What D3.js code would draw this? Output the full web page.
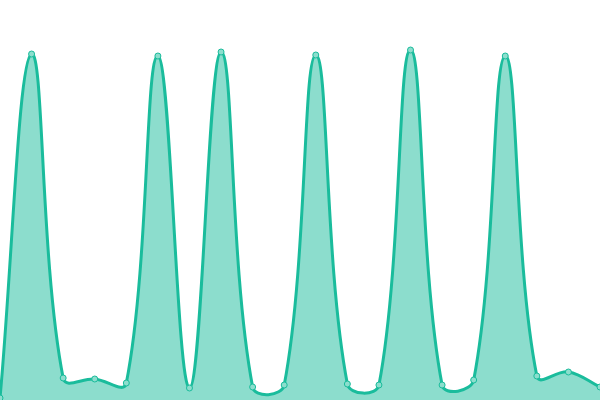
<!DOCTYPE html>
<html>
<head>
<meta charset="utf-8">
<script src="https://cdn.jsdelivr.net/npm/d3@7"></script>
<style>
html,body{margin:0;padding:0;background:#fff;}
svg{display:block;}
</style>
</head>
<body>
<svg id="chart" width="600" height="400"></svg>
<script>
const categories = d3.range(20).map(i => "P" + (i + 1));
const values = [2, 346, 22, 21, 17, 344, 12, 348, 13, 15, 345, 16, 15, 350, 15, 20, 344, 24, 28, 13];

const width = 600, height = 400;
const svg = d3.select("#chart");

const x = d3.scalePoint().domain(categories).range([0, width]);
const y = d3.scaleLinear().domain([0, 350]).range([height, 50]);

const data = categories.map((c, i) => ({c, v: values[i]}));

// Tension spline (distance-weighted control points), as a d3 curve factory
function tensionCurve(tension) {
  function Curve(context) { this._context = context; }
  Curve.prototype = {
    areaStart() { this._line = 0; },
    areaEnd() { this._line = NaN; },
    lineStart() { this._pts = []; },
    point(px, py) { this._pts.push([+px, +py]); },
    lineEnd() {
      const p = this._pts, n = p.length, c = this._context;
      if (n) {
        if (this._line) c.lineTo(p[0][0], p[0][1]); else c.moveTo(p[0][0], p[0][1]);
        const cps = p.map((cur, i) => {
          const prev = p[i - 1] || cur, next = p[i + 1] || cur;
          const d01 = Math.hypot(cur[0] - prev[0], cur[1] - prev[1]);
          const d12 = Math.hypot(next[0] - cur[0], next[1] - cur[1]);
          let s01 = d01 / (d01 + d12), s12 = d12 / (d01 + d12);
          if (isNaN(s01)) s01 = 0;
          if (isNaN(s12)) s12 = 0;
          const fa = tension * s01, fb = tension * s12;
          const clampX = v => Math.max(0, Math.min(width, v));
          const clampY = v => Math.max(0, Math.min(height, v));
          return {
            prev: [clampX(cur[0] - fa * (next[0] - prev[0])), clampY(cur[1] - fa * (next[1] - prev[1]))],
            next: [clampX(cur[0] + fb * (next[0] - prev[0])), clampY(cur[1] + fb * (next[1] - prev[1]))]
          };
        });
        for (let i = 1; i < n; i++) {
          c.bezierCurveTo(cps[i - 1].next[0], cps[i - 1].next[1], cps[i].prev[0], cps[i].prev[1], p[i][0], p[i][1]);
        }
      }
      if (this._line || (this._line !== 0 && n === 1)) c.closePath();
      this._line = 1 - this._line;
    }
  };
  return context => new Curve(context);
}
const curve = tensionCurve(0.4);

const area = d3.area()
  .x(d => x(d.c))
  .y0(y(0))
  .y1(d => y(d.v))
  .curve(curve);

const line = d3.line()
  .x(d => x(d.c))
  .y(d => y(d.v))
  .curve(curve);

svg.append("path").datum(data)
  .attr("d", area)
  .attr("fill", "#1abc9c")
  .attr("fill-opacity", 0.5);

svg.append("path").datum(data)
  .attr("d", line)
  .attr("fill", "none")
  .attr("stroke", "#1abc9c")
  .attr("stroke-width", 3);

svg.selectAll("circle").data(data).join("circle")
  .attr("cx", d => x(d.c))
  .attr("cy", d => y(d.v))
  .attr("r", 3)
  .attr("fill", "#8cdecd")
  .attr("stroke", "#1abc9c")
  .attr("stroke-width", 1);
</script>
</body>
</html>
